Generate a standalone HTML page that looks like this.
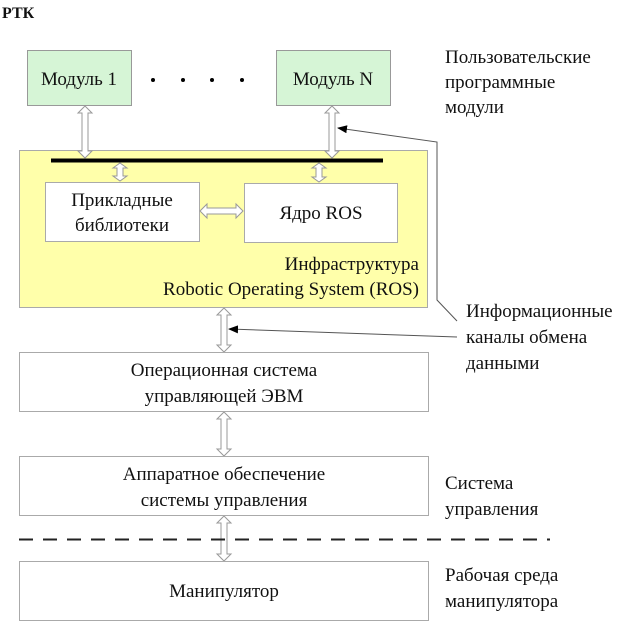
<!DOCTYPE html>
<html><head><meta charset="utf-8"><style>
body{margin:0;background:#fff}
svg text{font-family:"Liberation Serif",serif;fill:#111}
</style></head><body>
<svg width="636" height="626" viewBox="0 0 636 626" xmlns="http://www.w3.org/2000/svg">
<defs>
<marker id="ah" markerWidth="10" markerHeight="8" refX="9" refY="4" orient="auto" markerUnits="userSpaceOnUse"><path d="M0,0 L10,4 L0,8 Z" fill="#000"/></marker>
</defs>
<text x="2" y="18" font-size="16" font-weight="bold">РТК</text>
<rect x="27.5" y="50.5" width="104" height="55" fill="#d6f5d6" stroke="#999"/>
<rect x="276.5" y="50.5" width="114" height="55" fill="#d6f5d6" stroke="#999"/>
<text x="79" y="85" font-size="19" text-anchor="middle">Модуль 1</text>
<text x="333" y="85" font-size="19" text-anchor="middle">Модуль N</text>
<g fill="#000"><circle cx="153" cy="80" r="2"/><circle cx="183" cy="80" r="2"/><circle cx="212" cy="80" r="2"/><circle cx="242" cy="80" r="2"/></g>
<rect x="19.5" y="150.5" width="408" height="157" fill="#ffffaa" stroke="#aaa"/>
<rect x="45.5" y="182.5" width="154" height="59" fill="#fff" stroke="#aaa"/>
<rect x="244.5" y="183.5" width="153" height="59" fill="#fff" stroke="#aaa"/>
<text x="122" y="206" font-size="19" text-anchor="middle">Прикладные</text>
<text x="122" y="231" font-size="19" text-anchor="middle">библиотеки</text>
<text x="321" y="219" font-size="19" text-anchor="middle">Ядро ROS</text>
<text x="419" y="270" font-size="19" text-anchor="end">Инфраструктура</text>
<text x="419" y="295" font-size="19" text-anchor="end">Robotic Operating System (ROS)</text>
<rect x="51" y="158.5" width="332" height="4" fill="#000"/>
<g fill="#fff" stroke="#999" stroke-width="1">
<!-- vertical double arrows: x center, y1, y2 -->
<path d="M85,106 L92,113 L88,113 L88,151 L92,151 L85,158 L78,151 L82,151 L82,113 L78,113 Z"/>
<path d="M332,106 L339,113 L335,113 L335,151 L339,151 L332,158 L325,151 L329,151 L329,113 L325,113 Z"/>
<path d="M120,163 L127,168 L123,168 L123,176 L127,176 L120,181 L113,176 L117,176 L117,168 L113,168 Z"/>
<path d="M319,163 L326,168 L322,168 L322,177 L326,177 L319,182 L312,177 L316,177 L316,168 L312,168 Z"/>
<path d="M200,211 L207,204 L207,208 L236,208 L236,204 L243,211 L236,218 L236,214 L207,214 L207,218 Z"/>
<path d="M224,308 L231,315 L227,315 L227,345 L231,345 L224,352 L217,345 L221,345 L221,315 L217,315 Z"/>
<path d="M224,412 L231,419 L227,419 L227,449 L231,449 L224,456 L217,449 L221,449 L221,419 L217,419 Z"/>
<path d="M224,516 L231,523 L227,523 L227,554 L231,554 L224,561 L217,554 L221,554 L221,523 L217,523 Z"/>
</g>
<rect x="19.5" y="352.5" width="409" height="59" fill="#fff" stroke="#aaa"/>
<rect x="19.5" y="456.5" width="409" height="59" fill="#fff" stroke="#aaa"/>
<rect x="19.5" y="561.5" width="409" height="59" fill="#fff" stroke="#aaa"/>
<text x="224" y="376" font-size="19" text-anchor="middle">Операционная система</text>
<text x="224" y="402" font-size="19" text-anchor="middle">управляющей ЭВМ</text>
<text x="224" y="480" font-size="19" text-anchor="middle">Аппаратное обеспечение</text>
<text x="224" y="506" font-size="19" text-anchor="middle">системы управления</text>
<text x="224" y="597" font-size="19" text-anchor="middle">Манипулятор</text>
<line x1="19" y1="539.5" x2="550" y2="539.5" stroke="#222" stroke-width="2" stroke-dasharray="14,10"/>
<path d="M457,321 L437,300 L437,142 L338,128" fill="none" stroke="#555" stroke-width="1" marker-end="url(#ah)"/>
<line x1="457" y1="337" x2="229" y2="329" stroke="#555" stroke-width="1" marker-end="url(#ah)"/>
<text x="445" y="63" font-size="19">Пользовательские</text>
<text x="445" y="88" font-size="19">программные</text>
<text x="445" y="113" font-size="19">модули</text>
<text x="466" y="317" font-size="19">Информационные</text>
<text x="466" y="343" font-size="19">каналы обмена</text>
<text x="466" y="369" font-size="19">данными</text>
<text x="445" y="489" font-size="19">Система</text>
<text x="445" y="515" font-size="19">управления</text>
<text x="445" y="581" font-size="19">Рабочая среда</text>
<text x="445" y="607" font-size="19">манипулятора</text>
</svg>
</body></html>
